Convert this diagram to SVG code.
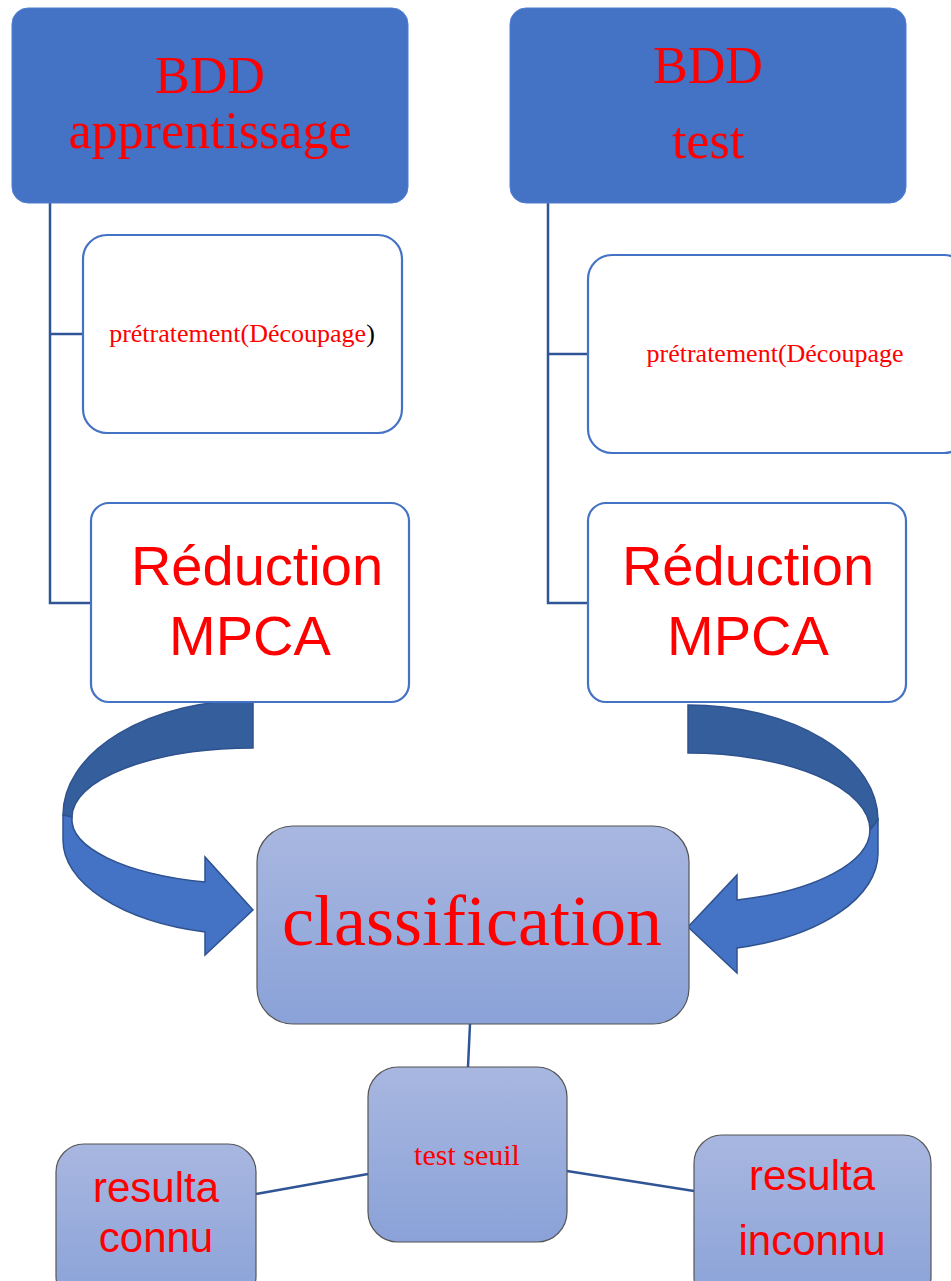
<svg xmlns="http://www.w3.org/2000/svg" width="951" height="1281" viewBox="0 0 951 1281">
<defs>
<linearGradient id="g" x1="0" y1="0" x2="0" y2="1">
<stop offset="0" stop-color="#A8B7E0"/>
<stop offset="1" stop-color="#8AA2D8"/>
</linearGradient>
</defs>
<style>
.top{fill:#4472C4;stroke:#4F7FD0;stroke-width:1}
.wb{fill:#fff;stroke:#4472C4;stroke-width:2.2}
.gb{fill:url(#g);stroke:#555;stroke-width:1.2}
.ln{stroke:#2F5597;stroke-width:2.5;fill:none}
.ser{font-family:"Liberation Serif","Times New Roman",serif;fill:#FF0000;text-anchor:middle}
.san{font-family:"Liberation Sans",Arial,sans-serif;fill:#FF0000;text-anchor:middle}
.dk{fill:#355E9C;stroke:#2F528F;stroke-width:1.5}
.lt{fill:#4472C4;stroke:#2F528F;stroke-width:1.5}
</style>
<rect width="951" height="1281" fill="#fff"/>
<g id="connectors">
<path class="ln" d="M50,203 V603 H91 M50,334 H83"/>
<path class="ln" d="M548,203 V603 H588 M548,354 H588"/>
<path class="ln" d="M470,1024 L468,1067"/>
<path class="ln" d="M256,1194 L368,1174"/>
<path class="ln" d="M567,1171 L694,1191"/>
<g id="arrow-left">
<path class="dk" d="M253,700 A190,115 0 0 0 63,815 L72,817 A181,69 0 0 1 253,748 Z"/>
<path class="lt" d="M63,815 L63,840 A190,95 0 0 0 205,932 L205,955 L253,910 L205,857 L205,882 A181,65 0 0 1 72,817 Z"/>
</g>
<g id="arrow-right">
<path class="dk" d="M688,705 A190,115 0 0 1 878,820 L870,830 A182,77 0 0 0 688,753 Z"/>
<path class="lt" d="M878,820 L878,853 A190,98 0 0 1 737,948 L737,973 L688,927 L737,875 L737,900 A182,73 0 0 0 870,830 Z"/>
</g>
</g>
<g id="bdd-apprentissage">
<rect class="top" x="12" y="8" width="396" height="195" rx="16"/>
<text class="ser" x="210" y="93" font-size="52">BDD</text>
<text class="ser" x="210" y="148" font-size="52">apprentissage</text>
</g>
<g id="bdd-test">
<rect class="top" x="510" y="8" width="396" height="195" rx="16"/>
<text class="ser" x="708" y="83" font-size="52">BDD</text>
<text class="ser" x="708" y="158" font-size="52">test</text>
</g>
<g id="pretraitement-left">
<rect class="wb" x="83" y="235" width="319" height="198" rx="24"/>
<text class="ser" x="242" y="342" font-size="26">prétratement(Découpage<tspan fill="#000">)</tspan></text>
</g>
<g id="pretraitement-right">
<rect class="wb" x="588" y="255" width="380" height="198" rx="24"/>
<text class="ser" x="775" y="362" font-size="26">prétratement(Découpage</text>
</g>
<g id="reduction-left">
<rect class="wb" x="91" y="503" width="318" height="199" rx="18"/>
<text class="san" x="257" y="585" font-size="56">Réduction</text>
<text class="san" x="250" y="655" font-size="56">MPCA</text>
</g>
<g id="reduction-right">
<rect class="wb" x="588" y="503" width="318" height="199" rx="18"/>
<text class="san" x="748" y="585" font-size="56">Réduction</text>
<text class="san" x="748" y="655" font-size="56">MPCA</text>
</g>
<g id="classification">
<rect class="gb" x="257" y="826" width="432" height="198" rx="36"/>
<text class="ser" x="472" y="945" font-size="72">classification</text>
</g>
<g id="test-seuil">
<rect class="gb" x="368" y="1067" width="199" height="175" rx="30"/>
<text class="ser" x="467" y="1165" font-size="30">test seuil</text>
</g>
<g id="resulta-connu">
<rect class="gb" x="56" y="1144" width="200" height="160" rx="28"/>
<text class="san" x="156" y="1202" font-size="42">resulta</text>
<text class="san" x="156" y="1252" font-size="42">connu</text>
</g>
<g id="resulta-inconnu">
<rect class="gb" x="694" y="1135" width="237" height="170" rx="28"/>
<text class="san" x="812" y="1190" font-size="42">resulta</text>
<text class="san" x="812" y="1255" font-size="42">inconnu</text>
</g>
</svg>
